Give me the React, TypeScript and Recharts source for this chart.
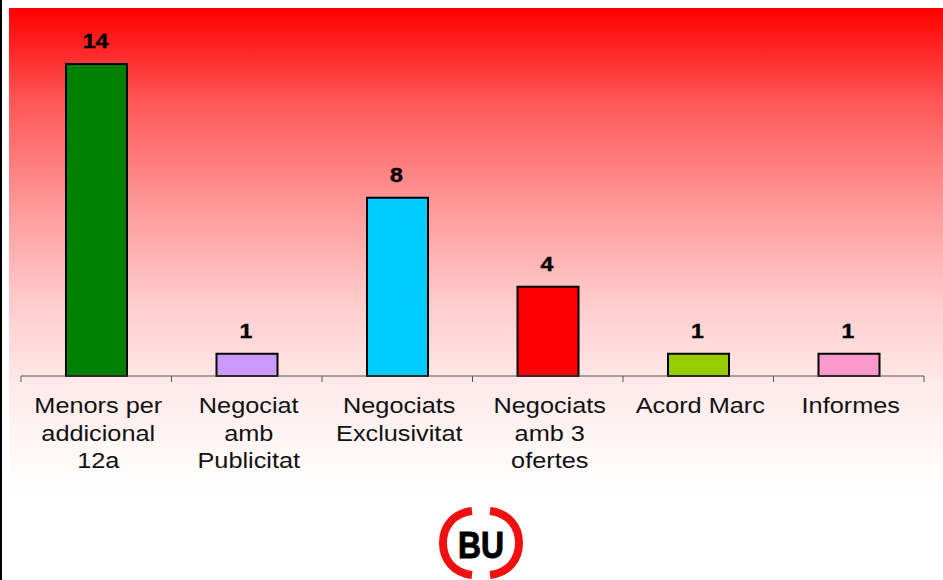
import { BarChart, Bar, Cell, XAxis, YAxis, LabelList } from "recharts";

const categories = [
  "Menors per|addicional|12a",
  "Negociat|amb|Publicitat",
  "Negociats|Exclusivitat",
  "Negociats|amb 3|ofertes",
  "Acord Marc",
  "Informes",
];
const values = [14, 1, 8, 4, 1, 1];
const colors = ["#008000", "#cc99ff", "#00ccff", "#ff0000", "#99cc00", "#ff99cc"];

const data = categories.map((name, i) => ({ name, value: values[i] }));

const FONT = "'Liberation Sans', Arial, sans-serif";
const BAND = 150.5;

function CategoryTick({ x, payload, index }: any) {
  const lines = payload.value.split("|");
  const left = x - BAND / 2;
  return (
    <g>
      <line x1={left} y1={376} x2={left} y2={382} stroke="#555" />
      {index === categories.length - 1 && (
        <line x1={left + BAND} y1={376} x2={left + BAND} y2={382} stroke="#555" />
      )}
      {lines.map((line: string, i: number) => (
        <text
          key={i}
          transform={`translate(${x + 2} ${413 + i * 27.5}) scale(1.15 1)`}
          textAnchor="middle"
          fontFamily={FONT}
          fontSize={22}
          fill="#111"
        >
          {line}
        </text>
      ))}
    </g>
  );
}

// the source picture is stretched sideways, so the labels get the same scale
function ValueLabel({ x, y, width, value }: any) {
  return (
    <text
      transform={`translate(${x + width / 2 - 1} ${y - 16}) scale(1.1 1)`}
      textAnchor="middle"
      fontFamily={FONT}
      fontWeight="bold"
      fontSize={21}
      fill="#000"
      stroke="#000"
      strokeWidth={0.4}
    >
      {value}
    </text>
  );
}

function Logo() {
  return (
    <svg width={90} height={74} style={{ position: "absolute", left: 436, top: 506 }}>
      <path d="M 36 5 C 18 7 7 20 7 37 C 7 54 18 67 36 69" fill="none" stroke="#f01010" strokeWidth={8} />
      <path d="M 54 5 C 72 7 83 20 83 37 C 83 54 72 67 54 69" fill="none" stroke="#f01010" strokeWidth={8} />
      <text
        x={45}
        y={52}
        textAnchor="middle"
        fontFamily={FONT}
        fontWeight="bold"
        fontSize={36}
        textLength={46}
        lengthAdjust="spacingAndGlyphs"
        fill="#000"
        stroke="#000"
        strokeWidth={1}
      >
        BU
      </text>
    </svg>
  );
}

export default function App() {
  return (
    <div
      style={{
        position: "absolute",
        left: 0,
        top: 0,
        width: 943,
        height: 580,
        overflow: "hidden",
        background: "#fff",
      }}
    >
      <div
        style={{
          position: "absolute",
          left: 9,
          top: 8,
          width: 934,
          height: 490,
          background:
            "linear-gradient(to bottom, #ff0000 0px, #ff5555 92px, #ff9595 192px, #ffcaca 292px, #ffe8e8 372px, #fffcfc 465px, #ffffff 490px)",
        }}
      />
      <div style={{ position: "absolute", left: 0, top: 0, width: 2, height: 580, background: "#000" }} />
      <div style={{ position: "absolute", left: 0, top: 0 }}>
        <BarChart
          width={943}
          height={580}
          data={data}
          margin={{ top: 64, right: 19, bottom: 0, left: 21 }}
          barCategoryGap="30%"
        >
          <YAxis hide domain={[0, 14]} />
          <XAxis
            dataKey="name"
            interval={0}
            axisLine={{ stroke: "#555" }}
            tickLine={false}
            tick={<CategoryTick />}
            height={204}
          />
          <Bar dataKey="value" barSize={61} stroke="#000" strokeWidth={2} isAnimationActive={false}>
            {data.map((d, i) => (
              <Cell key={d.name} fill={colors[i]} />
            ))}
            <LabelList dataKey="value" content={<ValueLabel />} />
          </Bar>
        </BarChart>
      </div>
      <Logo />
    </div>
  );
}
